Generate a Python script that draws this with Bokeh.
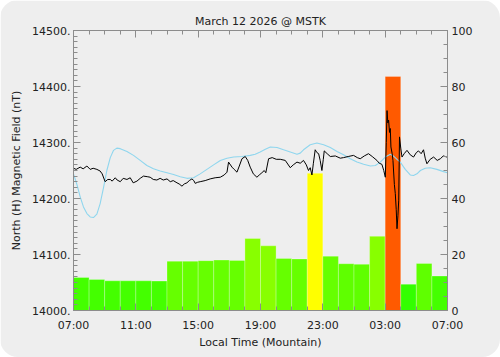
from bokeh.plotting import figure
from bokeh.models import (Range1d, LinearAxis, FixedTicker, Label, PrintfTickFormatter,
                          CustomJSTickFormatter)
from bokeh.embed import file_html
from bokeh.resources import INLINE

# ---------------- data ----------------
title_text = "March 12 2026 @ MSTK"
tick_hours = [0, 4, 8, 12, 16, 20, 24]
tick_labels = ["07:00", "11:00", "15:00", "19:00", "23:00", "03:00", "07:00"]

bar_start = list(range(24))
bar_pct = [11.8, 11.1, 10.6, 10.6, 10.6, 10.5, 17.6, 17.6, 17.8, 18.0, 17.9, 25.7,
           23.1, 18.6, 18.4, 49.0, 19.4, 16.7, 16.5, 26.5, 83.6, 9.4, 16.8, 12.3]
bar_colors = ["#44ff00", "#44ff00", "#44ff00", "#44ff00", "#44ff00", "#44ff00",
              "#66ff00", "#66ff00", "#66ff00", "#66ff00", "#66ff00", "#88ff00",
              "#88ff00", "#66ff00", "#66ff00", "#ffff00", "#66ff00", "#5fff00",
              "#5fff00", "#88ff00", "#ff5a00", "#33ff00", "#5fff00", "#44ff00"]

mag_hours = [0.0, 0.17, 0.43, 0.62, 0.86, 1.07, 1.26, 1.50, 1.71, 1.84, 2.03, 2.20,
             2.36, 2.48, 2.68, 2.80, 3.00, 3.19, 3.43, 3.64, 3.83, 4.07, 4.28, 4.49,
             4.73, 4.92, 5.12, 5.35, 5.56, 5.76, 6.00, 6.21, 6.40, 6.64, 6.78, 6.96,
             7.11, 7.28, 7.43, 7.60, 7.72, 7.81, 7.97, 8.13, 8.45, 8.77, 9.09, 9.42,
             9.67, 9.85, 9.95, 10.17, 10.31, 10.49, 10.64, 10.81, 11.02, 11.18, 11.34,
             11.54, 11.77, 11.92, 12.09, 12.24, 12.34, 12.52, 12.75, 13.01, 13.27,
             13.59, 13.91, 14.10, 14.34, 14.55, 14.76, 14.94, 15.08, 15.19, 15.30,
             15.39, 15.51, 15.62, 15.73, 15.83, 15.94, 16.03, 16.09, 16.28, 16.48,
             16.80, 17.12, 17.33, 17.63, 17.97, 18.21, 18.40, 18.66, 18.93, 19.17,
             19.47, 19.62, 19.79, 19.91, 20.01, 20.07, 20.12, 20.17, 20.22, 20.28,
             20.33, 20.37, 20.45, 20.50, 20.59, 20.65, 20.71, 20.76, 20.82, 20.87,
             20.92, 21.00, 21.08, 21.22, 21.40, 21.61, 21.82, 22.00, 22.14, 22.31,
             22.46, 22.57, 22.68, 22.89, 23.11, 23.34, 23.54, 23.73, 23.97]
mag_nt = [14254, 14252, 14256, 14253, 14258, 14252, 14254, 14252, 14249, 14244, 14230, 14234,
          14234, 14231, 14237, 14233, 14230, 14236, 14234, 14237, 14228, 14231, 14236, 14240,
          14239, 14238, 14234, 14233, 14236, 14233, 14235, 14230, 14232, 14228, 14226, 14222,
          14226, 14228, 14232, 14235, 14232, 14227, 14229, 14230, 14232, 14235, 14237, 14238,
          14242, 14247, 14265, 14256, 14252, 14247, 14258, 14271, 14275, 14268, 14256,
          14244, 14238, 14242, 14246, 14250, 14246, 14271, 14273, 14270, 14270,
          14268, 14255, 14260, 14265, 14263, 14268, 14260, 14250, 14255, 14242,
          14262, 14287, 14282, 14280, 14268, 14250, 14270, 14285, 14280, 14275,
          14276, 14272, 14273, 14275, 14277, 14273, 14271, 14276, 14280, 14275,
          14268, 14263, 14261, 14250, 14238, 14300, 14357, 14335, 14340, 14318,
          14325, 14292, 14280, 14268, 14225, 14209, 14180, 14146, 14170, 14197,
          14310, 14290, 14274, 14280, 14286, 14278, 14274, 14282, 14285, 14280,
          14287, 14272, 14262, 14270, 14274, 14268, 14271, 14276, 14274]

base_hours = [0.0, 0.22, 0.43, 0.64, 0.86, 1.07, 1.28, 1.50, 1.71, 1.93, 2.14, 2.36,
              2.57, 2.78, 3.00, 3.43, 3.85, 4.28, 4.71, 5.13, 5.56, 6.00, 6.42, 6.85,
              7.28, 7.70, 8.13, 8.56, 8.99, 9.42, 9.85, 10.27, 10.81, 11.34, 11.66,
              11.98, 12.31, 12.63, 13.06, 13.48, 13.91, 14.34, 14.55, 14.76, 15.19,
              15.62, 16.05, 16.48, 16.91, 17.33, 17.76, 18.19, 18.62, 19.05, 19.37,
              19.69, 20.01, 20.33, 20.52, 20.76, 20.97, 21.29, 21.61, 21.82, 22.04,
              22.26, 22.57, 22.89, 23.32, 23.75, 24.0]
base_nt = [14244, 14225, 14203, 14185, 14173, 14167, 14166, 14172, 14191, 14220, 14250, 14273,
           14286, 14290, 14289, 14284, 14277, 14268, 14259, 14253, 14249, 14246, 14243, 14239,
           14236, 14237, 14244, 14252, 14260, 14268, 14272, 14274, 14275, 14277, 14279,
           14283, 14288, 14292, 14291, 14287, 14283, 14279, 14281, 14287, 14296,
           14299, 14296, 14291, 14284, 14278, 14271, 14265, 14261, 14258, 14259,
           14265, 14274, 14279, 14276, 14270, 14265, 14252, 14242, 14241, 14244,
           14250, 14254, 14255, 14252, 14248, 14246]

# ---------------- figure ----------------
FONT = "DejaVu Sans"
TXT = "#222222"
GREY = "#8c8c8c"

p = figure(width=500, height=357, output_backend="svg", toolbar_location=None,
           x_range=Range1d(0, 24), y_range=Range1d(14000, 14500),
           min_border_left=73, min_border_right=53, min_border_top=30,
           min_border_bottom=47, background_fill_color="#eeeeee",
           border_fill_color="#eeeeee", outline_line_color=GREY)
p.styles = {"border-radius": "18px", "overflow": "hidden"}
p.extra_y_ranges = {"pct": Range1d(0, 100)}
p.grid.visible = False

p.title.text = title_text
p.title.align = "center"
p.title.text_font = FONT
p.title.text_font_size = "11px"
p.title.text_font_style = "normal"
p.title.text_color = TXT
p.title.standoff = 5

# bars
x_centers = [h + 0.5 for h in bar_start]
p.vbar(x=x_centers, width=1.0, top=bar_pct, bottom=0, y_range_name="pct",
       fill_color=bar_colors, line_color="#ffffff", line_alpha=0.25, line_width=1)

# lines
p.line(base_hours, base_nt, line_color="#8fd6ee", line_width=1.1)
p.line(mag_hours, mag_nt, line_color="#000000", line_width=1)

def style_axis(ax):
    ax.axis_line_color = GREY
    ax.major_tick_line_color = GREY
    ax.minor_tick_line_color = GREY
    ax.major_tick_in = 7
    ax.major_tick_out = 0
    ax.minor_tick_in = 4
    ax.minor_tick_out = 0
    ax.major_label_text_font = FONT
    ax.major_label_text_font_size = "11px"
    ax.major_label_text_color = TXT
    ax.axis_label_text_font = FONT
    ax.axis_label_text_font_size = "11px"
    ax.axis_label_text_font_style = "normal"
    ax.axis_label_text_color = TXT
    ax.major_label_standoff = 3

# bottom axis
xa = p.xaxis[0]
xa.ticker = FixedTicker(ticks=tick_hours, minor_ticks=list(range(0, 25)))
xa.major_label_overrides = {h: l for h, l in zip(tick_hours, tick_labels)}
xa.axis_label = "Local Time (Mountain)"
style_axis(xa)
xa.major_label_standoff = 8
xa.axis_label_standoff = 1

# top axis (ticks only)
ta = LinearAxis(ticker=FixedTicker(ticks=tick_hours, minor_ticks=list(range(0, 25))),
                formatter=CustomJSTickFormatter(code="return ''"))
style_axis(ta)
ta.major_label_standoff = 0
p.add_layout(ta, "above")

# left axis
ya = p.yaxis[0]
ya.ticker = FixedTicker(ticks=list(range(14000, 14501, 100)),
                        minor_ticks=list(range(14000, 14501, 10)))
ya.formatter = PrintfTickFormatter(format="%d.")
ya.axis_label = "North (H) Magnetic Field (nT)"
style_axis(ya)
ya.axis_label_standoff = 6

# right axis
ra = LinearAxis(y_range_name="pct",
                ticker=FixedTicker(ticks=list(range(0, 101, 20)),
                                   minor_ticks=list(range(0, 101, 5))))
style_axis(ra)
ra.major_label_standoff = 4
p.add_layout(ra, "right")

p.add_layout(Label(x=24.97, y=53.5, y_range_name="pct", text="Chance of Observing Aurora (%)",
                   angle=1.5708, text_align="center", text_baseline="middle",
                   text_font=FONT, text_font_size="11px", text_color=TXT))

open("out.html", "w").write(file_html(p, INLINE))
